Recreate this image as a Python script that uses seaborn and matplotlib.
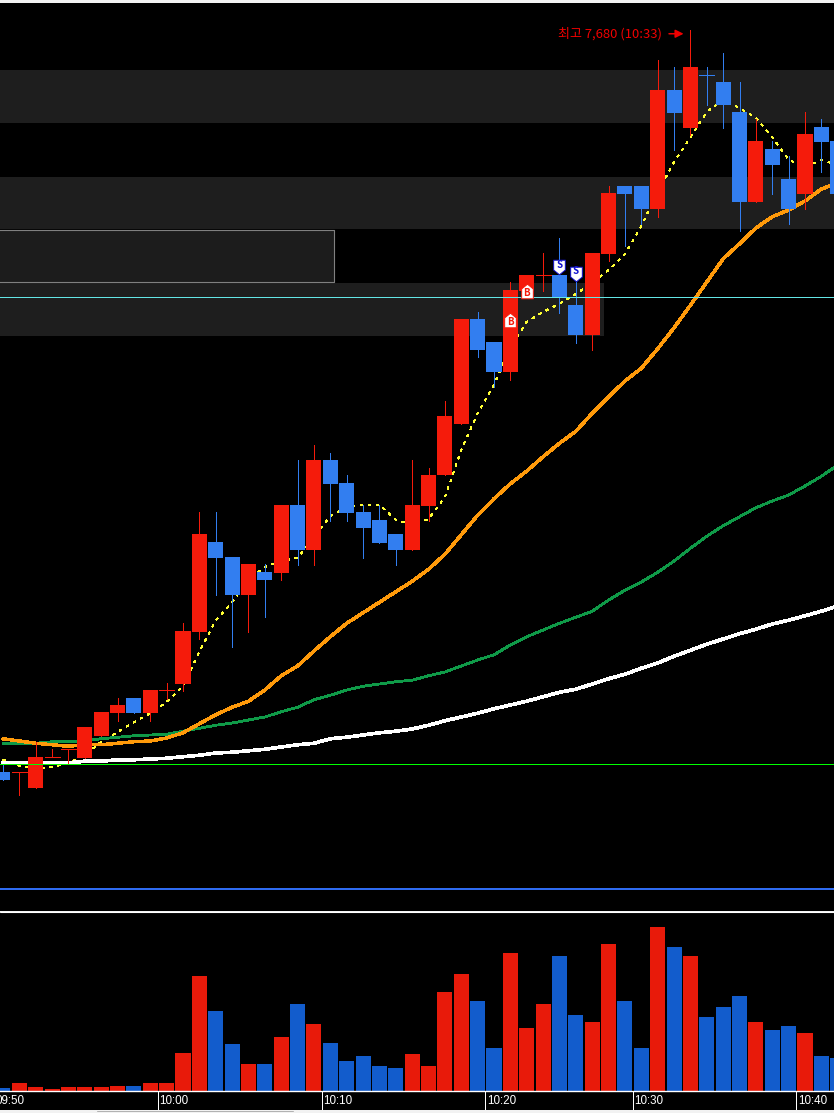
import matplotlib
matplotlib.use('Agg')
import matplotlib.pyplot as plt
from matplotlib.path import Path
from matplotlib.transforms import blended_transform_factory
import numpy as np
import pandas as pd
import seaborn as sns

# candle values, one per minute bar (10:3x has one minute missing)
open_ = [6691, 6691, 6669, 6711, 6721, 6709, 6739, 6769, 6789, 6769, 6800, 6808, 6877, 6997, 6977, 6927, 6957, 6956,
         7047, 6987, 7107, 7076, 7037, 7027, 7008, 6987, 7045, 7087, 7155, 7295, 7264, 7224, 7332, 7353, 7353, 7313,
         7273, 7381, 7472, 7472, 7441, 7600, 7549, 7620, 7611, 7571, 7451, 7521, 7481, 7461, 7551, 7532]
close = [6680, 6691, 6711, 6711, 6721, 6751, 6771, 6780, 6769, 6800, 6800, 6879, 7008, 6976, 6927, 6968, 6947, 7047,
         6987, 7107, 7075, 7036, 7016, 6996, 6987, 7047, 7087, 7165, 7295, 7253, 7224, 7333, 7353, 7353, 7324, 7273,
         7383, 7463, 7461, 7441, 7600, 7569, 7631, 7620, 7580, 7451, 7532, 7500, 7441, 7541, 7531, 7461]
high = [6700, 6691, 6731, 6721, 6721, 6751, 6771, 6789, 6789, 6800, 6809, 6889, 7037, 7037, 6977, 6968, 6968, 7047,
        7107, 7127, 7116, 7087, 7047, 7047, 7008, 7107, 7096, 7185, 7295, 7304, 7264, 7344, 7353, 7383, 7403, 7344,
        7383, 7472, 7472, 7472, 7640, 7631, 7680, 7631, 7649, 7611, 7561, 7532, 7512, 7571, 7561, 7532]
low = [6680, 6660, 6669, 6711, 6701, 6709, 6739, 6759, 6769, 6759, 6788, 6799, 6868, 6927, 6857, 6877, 6897, 6947,
       6967, 6967, 7025, 7025, 6976, 6996, 6967, 6987, 7025, 7087, 7155, 7244, 7204, 7213, 7332, 7332, 7303, 7263,
       7253, 7372, 7392, 7421, 7431, 7520, 7540, 7580, 7549, 7412, 7451, 7461, 7421, 7441, 7491, 7461]
doji_down = [43]

# moving averages
ma_yellow = [6707, 6699, 6696, 6697, 6703, 6713, 6731, 6744, 6757, 6769, 6784, 6805, 6851, 6893, 6917, 6947, 6964, 6972,
             6976, 7004, 7032, 7044, 7047, 7047, 7027, 7020, 7028, 7057, 7120, 7169, 7207, 7257, 7291, 7304, 7315, 7328,
             7343, 7360, 7381, 7419, 7464, 7504, 7537, 7571, 7587, 7576, 7563, 7537, 7507, 7497, 7507, 7500]
ma_orange = [6735, 6732, 6729, 6727, 6725, 6727, 6727, 6729, 6731, 6732, 6736, 6743, 6755, 6767, 6777, 6785, 6800, 6819,
             6832, 6852, 6871, 6889, 6903, 6917, 6931, 6945, 6961, 6981, 7007, 7033, 7055, 7075, 7092, 7111, 7129, 7145,
             7169, 7191, 7212, 7229, 7255, 7283, 7313, 7344, 7375, 7395, 7416, 7431, 7440, 7452, 7468, 7476]
ma_green = [6729, 6729, 6729, 6731, 6731, 6732, 6735, 6737, 6739, 6740, 6741, 6745, 6749, 6753, 6756, 6760, 6764, 6771,
            6777, 6787, 6793, 6800, 6805, 6808, 6811, 6813, 6819, 6824, 6832, 6840, 6847, 6860, 6871, 6880, 6889, 6897,
            6905, 6920, 6933, 6944, 6957, 6972, 6989, 7005, 7019, 7031, 7043, 7052, 7060, 7072, 7085, 7100]
ma_white = [6703, 6703, 6703, 6703, 6703, 6705, 6705, 6707, 6707, 6708, 6709, 6711, 6713, 6716, 6717, 6719, 6721, 6724,
            6727, 6729, 6735, 6737, 6740, 6743, 6745, 6748, 6753, 6759, 6764, 6769, 6775, 6780, 6785, 6791, 6797, 6801,
            6808, 6815, 6821, 6829, 6836, 6845, 6853, 6861, 6868, 6875, 6881, 6888, 6893, 6899, 6905, 6912]

# volume, with the colour side of each bar
volume = [9, 24, 12, 6, 12, 12, 12, 15, 15, 24, 24, 114, 345, 240, 141, 81, 81, 162, 261, 201, 144, 90, 105, 75, 69, 111,
          75, 297, 351, 270, 129, 414, 189, 261, 405, 228, 207, 441, 270, 129, 492, 432, 405, 222, 252, 285, 207, 183,
          195, 174, 105, 99]
vol_side = list('brrrrrrrbrrrrbbrbrbrbbbbbrrrrbbrrrbbrrbbrbrbbbrbbrbb')

# time axis
tick_bars = [0, 10, 20, 30, 39, 49]
tick_labels = ['09:50', '10:00', '10:10', '10:20', '10:30', '10:40']

# price levels and zones
band_low = [7556, 7415, 7272]
band_high = [7627, 7484, 7343]
band_end = [None, None, 36.74]
box_low, box_high, box_end = 7344, 7413, 20.25
level_prices = [7324, 6701, 6534]
level_colors = ['#63e6e6', '#00ff00', '#2f6bf0']
level_widths = [0.6, 0.6, 1.2]
buy_bars, buy_prices = [31, 32], [7293, 7332]
sell_bars, sell_prices = [34, 35], [7364, 7355]

RED = '#f51b0b'
BLUE = '#327ef0'
W, H = 834, 1113
X_RANGE = (-0.18, 50.77)

sns.set_theme(style='dark', rc={'axes.facecolor': 'black', 'figure.facecolor': '#f2f2f2', 'axes.grid': False})
plt.rcParams['font.family'] = ['Noto Sans CJK KR', 'DejaVu Sans']


def panel(top, bottom):
    ax = fig.add_axes([0, 1 - bottom / H, 1, (bottom - top) / H])
    ax.set_xlim(*X_RANGE)
    ax.set_xticks([])
    ax.set_yticks([])
    ax.set_xlabel('')
    ax.set_ylabel('')
    for s in ax.spines.values():
        s.set_visible(False)
    return ax


fig = plt.figure(figsize=(W / 100, H / 100), dpi=100)
ax = panel(3, 911)
ax_vol = panel(912, 1091)
ax_time = panel(1091, 1110)
bars = np.arange(len(open_))

# zones behind everything
for lo, hi, end in zip(band_low, band_high, band_end):
    ax.fill_between([-1, end if end else 60], lo, hi, color='#1e1e1e', lw=0, zorder=1)
ax.fill_between([-1, box_end], box_low, box_high, facecolor='#1c1c1c', edgecolor='#808080', lw=0.8, zorder=1.5)

# moving averages
ma_styles = [(ma_yellow, '#ffff33', 0.5, (0, (3, 8))), (ma_white, 'white', 1.9, '-'),
             (ma_green, '#0f9a48', 1.3, '-'), (ma_orange, '#ff9a0a', 1.8, '-')]
for values, col, lw, ls in ma_styles:
    sns.lineplot(x=bars, y=values, color=col, linewidth=lw, linestyle=ls, ax=ax, zorder=2, antialiased=False)

# candles
for i in bars:
    up = close[i] >= open_[i] and i not in doji_down
    col = RED if up else BLUE
    ax.vlines(i, low[i], high[i], color=col, lw=0.7, zorder=3, antialiased=False)
    if close[i] == open_[i]:
        ax.hlines(close[i], i - 0.46, i + 0.46, color=col, lw=0.7, zorder=3, antialiased=False)
    else:
        ax.bar(i, abs(close[i] - open_[i]), width=0.92, bottom=min(open_[i], close[i]), color=col, lw=0,
               zorder=3, antialiased=False)

# horizontal price levels
for price, col, lw in zip(level_prices, level_colors, level_widths):
    ax.axhline(price, color=col, lw=lw, zorder=4, antialiased=False)

# buy and sell flags
buy_flag = Path([(-0.8, -1), (0.8, -1), (0.8, 0.35), (0, 1), (-0.8, 0.35), (-0.8, -1)], closed=True)
sell_flag = Path([(-0.8, 1), (0.8, 1), (0.8, -0.35), (0, -1), (-0.8, -0.35), (-0.8, 1)], closed=True)
ax.scatter(buy_bars, buy_prices, marker=buy_flag, s=110, facecolor='white', edgecolor=RED, linewidth=0.7, zorder=5)
ax.scatter(sell_bars, sell_prices, marker=sell_flag, s=110, facecolor='white', edgecolor='#1010d0', linewidth=0.7, zorder=5)
for x, y in zip(buy_bars, buy_prices):
    ax.text(x, y - 3, 'B', color=RED, fontsize=7, fontweight='bold', ha='center', va='center', zorder=6)
for x, y in zip(sell_bars, sell_prices):
    ax.text(x, y + 3, 'S', color='#1010d0', fontsize=7, fontweight='bold', ha='center', va='center', zorder=6)

# day high label
top_bar = int(np.argmax(high))
ax.annotate(f'최고 {high[top_bar]:,} (10:33)', xy=(top_bar - 0.42, high[top_bar] - 5), xytext=(-22, 0),
            textcoords='offset pixels', color='#f00000', fontsize=9.4, ha='right', va='center', zorder=6,
            fontweight='light',
            arrowprops=dict(arrowstyle='-|>', color='#f00000', lw=1.1, mutation_scale=12, shrinkA=3, shrinkB=0))
ax.set_ylim(6505.33, 7716)

# volume
df_vol = pd.DataFrame({'bar': bars, 'volume': volume, 'side': vol_side})
sns.barplot(data=df_vol, x='bar', y='volume', hue='side', palette={'r': '#e81a0a', 'b': '#125ccc'}, native_scale=True,
            dodge=False, width=0.92, saturation=1, linewidth=0, legend=False, ax=ax_vol)
ax_vol.set_xlim(*X_RANGE)
ax_vol.set_ylim(0, 537)
ax_vol.set_xticks([])
ax_vol.set_yticks([])
ax_vol.set_xlabel('')
ax_vol.set_ylabel('')
for p in ax_vol.patches:
    p.set_antialiased(False)

# separators and time labels
fig.add_artist(plt.Line2D([0, 1], [1 - 911.5 / H] * 2, color='white', lw=0.8))
fig.add_artist(plt.Line2D([97 / W, 293 / W], [1 - 1111 / H] * 2, color='#b0b0b0', lw=0.7))
ax_time.spines['top'].set_visible(True)
ax_time.spines['top'].set_color('white')
ax_time.spines['top'].set_linewidth(1.0)
ax_time.set_ylim(0, 1)
trans = blended_transform_factory(ax_time.transData, ax_time.transAxes)
for b, lab in zip(tick_bars, tick_labels):
    ax_time.vlines(b - 0.53, 0, 1, color='white', lw=0.7, antialiased=False)
    ax_time.text(b - 0.44, 0.47, lab, color='white', fontsize=8.4, ha='left', va='center', transform=trans,
                 family=['Liberation Sans', 'DejaVu Sans'], clip_on=True)

fig.savefig('out.png', dpi=100, facecolor=fig.get_facecolor())
